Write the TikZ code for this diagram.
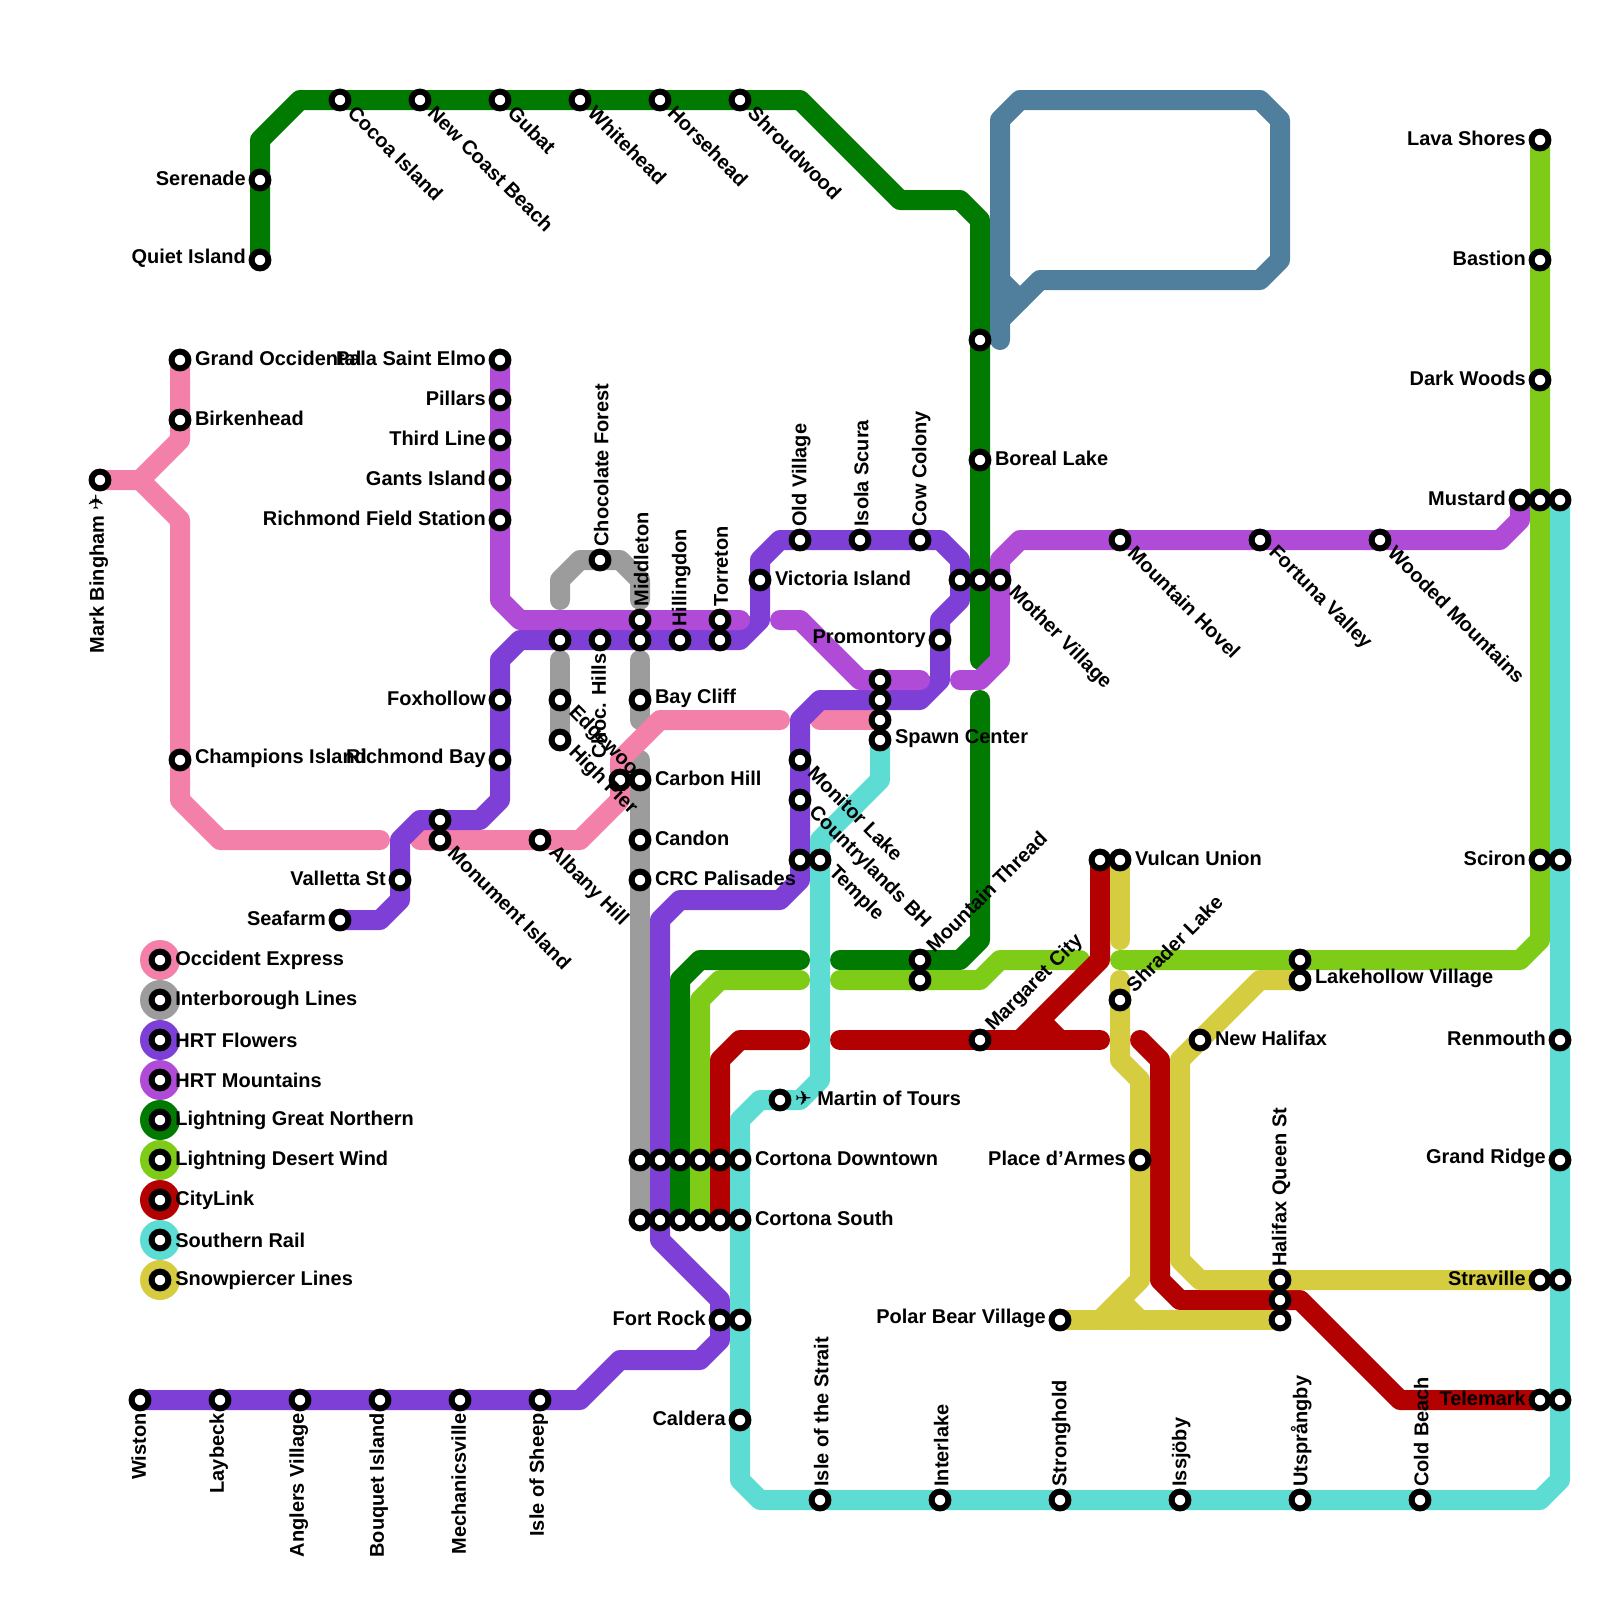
\documentclass[tikz,border=0pt]{standalone}
\usepackage{fontspec}
\setmainfont{Liberation Sans}[BoldFont=Liberation Sans Bold]
\newfontfamily\planefont{DejaVu Sans}
\usetikzlibrary{backgrounds}

\definecolor{occident}{HTML}{F380A8}
\definecolor{interboro}{HTML}{9C9C9C}
\definecolor{flowers}{HTML}{7E3FD7}
\definecolor{mountains}{HTML}{B04BD8}
\definecolor{northern}{HTML}{007A00}
\definecolor{desert}{HTML}{7FCC18}
\definecolor{citylink}{HTML}{B30000}
\definecolor{southern}{HTML}{5DDCD3}
\definecolor{snowpiercer}{HTML}{D6CC40}
\definecolor{sealine}{HTML}{4F7F9C}

\begin{document}
\begin{tikzpicture}[
      x=0.5cm, y=-0.5cm,
      stn/.style={circle, draw=black, fill=white, line width=0.15cm, inner sep=0pt, minimum size=0.42cm},
      label distance=0.07cm,
      every label/.style={font=\fontsize{14.2}{16}\selectfont\bfseries, inner sep=0pt, outer sep=0pt, text=black},
      rlab/.style={anchor=west, xshift=0.02cm, yshift=0.045cm},
      llab/.style={anchor=east, yshift=0.045cm},
      lglab/.style={anchor=west, xshift=0.03cm, yshift=-0.005cm},
      uplab/.style={xshift=0.1cm, yshift=0.05cm, rotate=90, anchor=west},
      dnlab/.style={xshift=-0.1cm, yshift=-0.05cm, rotate=90, anchor=east},
      ne/.style={xshift=0.04cm, yshift=0.02cm, rotate=45, anchor=west},
      se/.style={xshift=0.09cm, yshift=0.03cm, rotate=-45, anchor=west},
      route/.style={line width=0.5cm, line cap=round, line join=round},
      dot/.style={circle, inner sep=0pt, minimum size=1cm}
    ]
    \useasboundingbox (0,0) rectangle (80,80);

    % Lightning Great Northern
    \node[stn, label={[llab]180:Serenade}] (serenade) at (13,9) {};
    \node[stn, label={[llab]180:Quiet Island}] (quiet) at (13,13) {};
    \node[stn, label={[se]-45:Cocoa Island}] (cocoa) at (17,5) {};
    \node[stn, label={[se]-45:New Coast Beach}] (newcoast) at (21,5) {};
    \node[stn, label={[se]-45:Gubat}] (gubat) at (25,5) {};
    \node[stn, label={[se]-45:Whitehead}] (whitehead) at (29,5) {};
    \node[stn, label={[se]-45:Horsehead}] (horsehead) at (33,5) {};
    \node[stn, label={[se]-45:Shroudwood}] (shroudwood) at (37,5) {};
    \node[stn] (gnmid) at (49,17) {};
    \node[stn, label={[rlab]0:Boreal Lake}] (boreal) at (49,23) {};
    \node[stn, label={[ne]45:Mountain Thread}] (mthread) at (46,48) {};
    % Lightning Desert Wind
    \node[stn] (mthreadb) at (46,49) {};
    \node[stn, label={[llab]180:Lava Shores}] (lava) at (77,7) {};
    \node[stn, label={[llab]180:Bastion}] (bastion) at (77,13) {};
    \node[stn, label={[llab]180:Dark Woods}] (darkwoods) at (77,19) {};
    \node[stn] (mustardb) at (77,25) {};
    \node[stn, label={[llab]180:Sciron}] (sciron) at (77,43) {};
    \node[stn] (lakeholb) at (65,48) {};
    % Occident Express
    \node[stn, label={[dnlab]-90:Mark Bingham {\planefont ✈}}] (mark) at (5,24) {};
    \node[stn, label={[rlab]0:Grand Occidental}] (grandocc) at (9,18) {};
    \node[stn, label={[rlab]0:Birkenhead}] (birken) at (9,21) {};
    \node[stn, label={[rlab]0:Champions Island}] (champions) at (9,38) {};
    \node[stn, label={[se]-45:Monument Island}] (monument) at (22,42) {};
    \node[stn, label={[se]-45:Albany Hill}] (albany) at (27,42) {};
    \node[stn] (carbonb) at (31,39) {};
    % Interborough Lines
    \node[stn, label={[uplab]90:Chocolate Forest}] (chocolate) at (30,28) {};
    \node[stn, label={[se]-45:Edgewood}] (edgewood) at (28,35) {};
    \node[stn, label={[se]-45:High Pier}] (highpier) at (28,37) {};
    \node[stn, label={[rlab]0:Bay Cliff}] (baycliff) at (32,35) {};
    \node[stn, label={[rlab]0:Carbon Hill}] (carbon) at (32,39) {};
    \node[stn, label={[rlab]0:Candon}] (candon) at (32,42) {};
    \node[stn, label={[rlab]0:CRC Palisades}] (crc) at (32,44) {};
    % HRT Flowers
    \node[stn, label={[dnlab]-90:Wiston}] (wiston) at (7,70) {};
    \node[stn, label={[dnlab]-90:Laybeck}] (laybeck) at (11,70) {};
    \node[stn, label={[dnlab]-90:Anglers Village}] (anglers) at (15,70) {};
    \node[stn, label={[dnlab]-90:Bouquet Island}] (bouquet) at (19,70) {};
    \node[stn, label={[dnlab]-90:Mechanicsville}] (mechanics) at (23,70) {};
    \node[stn, label={[dnlab]-90:Isle of Sheep}] (sheep) at (27,70) {};
    \node[stn, label={[llab]180:Fort Rock}] (fortrock) at (36,66) {};
    \node[stn, label={[llab]180:Seafarm}] (seafarm) at (17,46) {};
    \node[stn, label={[llab]180:Valletta St}] (valletta) at (20,44) {};
    \node[stn] (monumentb) at (22,41) {};
    \node[stn, label={[llab]180:Richmond Bay}] (richbay) at (25,38) {};
    \node[stn, label={[llab]180:Foxhollow}] (foxhollow) at (25,35) {};
    \node[stn] (edgeb) at (28,32) {};
    \node[stn, label={[dnlab]-90:Choc. Hills}] (chochills) at (30,32) {};
    \node[stn] (middleb) at (32,32) {};
    \node[stn, label={[uplab]90:Hillingdon}] (hillingdon) at (34,32) {};
    \node[stn] (torretonb) at (36,32) {};
    \node[stn, label={[rlab]0:Victoria Island}] (victoria) at (38,29) {};
    \node[stn, label={[uplab]90:Old Village}] (oldvillage) at (40,27) {};
    \node[stn, label={[uplab]90:Isola Scura}] (isola) at (43,27) {};
    \node[stn, label={[uplab]90:Cow Colony}] (cowcolony) at (46,27) {};
    \node[stn] (motherb) at (48,29) {};
    \node[stn, label={[llab]180:Promontory}] (promontory) at (47,32) {};
    \node[stn] (spawnc) at (44,35) {};
    \node[stn, label={[se]-45:Monitor Lake}] (monitor) at (40,38) {};
    \node[stn, label={[se]-45:Countrylands BH}] (country) at (40,40) {};
    \node[stn] (templeb) at (40,43) {};
    % HRT Mountains
    \node[stn, label={[llab]180:Pala Saint Elmo}] (elmo) at (25,18) {};
    \node[stn, label={[llab]180:Pillars}] (pillars) at (25,20) {};
    \node[stn, label={[llab]180:Third Line}] (thirdline) at (25,22) {};
    \node[stn, label={[llab]180:Gants Island}] (gants) at (25,24) {};
    \node[stn, label={[llab]180:Richmond Field Station}] (richfield) at (25,26) {};
    \node[stn, label={[uplab]90:Middleton}] (middleton) at (32,31) {};
    \node[stn, label={[uplab]90:Torreton}] (torreton) at (36,31) {};
    \node[stn] (spawnb) at (44,34) {};
    \node[stn] (motherc) at (49,29) {};
    \node[stn, label={[se]-45:Mother Village}] (mother) at (50,29) {};
    \node[stn, label={[se]-45:Mountain Hovel}] (hovel) at (56,27) {};
    \node[stn, label={[se]-45:Fortuna Valley}] (fortuna) at (63,27) {};
    \node[stn, label={[se]-45:Wooded Mountains}] (wooded) at (69,27) {};
    \node[stn, label={[llab]180:Mustard}] (mustard) at (76,25) {};
    % CityLink
    \node[stn, label={[ne]45:Margaret City}] (margaret) at (49,52) {};
    \node[stn] (vulcanb) at (55,43) {};
    \node[stn] (halifaxb) at (64,65) {};
    \node[stn, label={[llab]180:Telemark}] (telemark) at (77,70) {};
    \node[stn] (cortdnb) at (36,58) {};
    \node[stn] (cortsb) at (36,61) {};
    % Southern Rail
    \node[stn, label={[rlab]0:Spawn Center}] (spawn) at (44,37) {};
    \node[stn, label={[se]-45:Temple}] (temple) at (41,43) {};
    \node[stn, label={[rlab]0:{\planefont ✈} Martin of Tours}] (martin) at (39,55) {};
    \node[stn, label={[rlab]0:Cortona Downtown}] (cortdn) at (37,58) {};
    \node[stn, label={[rlab]0:Cortona South}] (corts) at (37,61) {};
    \node[stn] (fortrockb) at (37,66) {};
    \node[stn, label={[llab]180:Caldera}] (caldera) at (37,71) {};
    \node[stn, label={[uplab]90:Isle of the Strait}] (strait) at (41,75) {};
    \node[stn, label={[uplab]90:Interlake}] (interlake) at (47,75) {};
    \node[stn, label={[uplab]90:Stronghold}] (stronghold) at (53,75) {};
    \node[stn, label={[uplab]90:Issjöby}] (issjoby) at (59,75) {};
    \node[stn, label={[uplab]90:Utsprångby}] (utsprang) at (65,75) {};
    \node[stn, label={[uplab]90:Cold Beach}] (coldbeach) at (71,75) {};
    \node[stn] (mustardc) at (78,25) {};
    \node[stn] (scironb) at (78,43) {};
    \node[stn, label={[llab]180:Renmouth}] (renmouth) at (78,52) {};
    \node[stn, label={[llab]180:Grand Ridge}] (grandridge) at (78,58) {};
    \node[stn] (stravilleb) at (78,64) {};
    \node[stn] (telemarkb) at (78,70) {};
    % Snowpiercer Lines
    \node[stn, label={[rlab]0:Vulcan Union}] (vulcan) at (56,43) {};
    \node[stn, label={[ne]45:Shrader Lake}] (shrader) at (56,50) {};
    \node[stn, label={[rlab]0:Lakehollow Village}] (lakehol) at (65,49) {};
    \node[stn, label={[rlab]0:New Halifax}] (newhalifax) at (60,52) {};
    \node[stn, label={[llab]180:Place d’Armes}] (armes) at (57,58) {};
    \node[stn, label={[llab]180:Polar Bear Village}] (polar) at (53,66) {};
    \node[stn, label={[uplab]90:Halifax Queen St}] (halifax) at (64,64) {};
    \node[stn] (halifaxc) at (64,66) {};
    \node[stn, label={[llab]180:Straville}] (straville) at (77,64) {};
    % Cortona rows
    \node[stn] (cortdnc) at (32,58) {};
    \node[stn] (cortdnd) at (33,58) {};
    \node[stn] (cortdne) at (34,58) {};
    \node[stn] (cortdnf) at (35,58) {};
    \node[stn] (cortsc) at (32,61) {};
    \node[stn] (cortsd) at (33,61) {};
    \node[stn] (cortse) at (34,61) {};
    \node[stn] (cortsf) at (35,61) {};
    \node[stn] (spawnd) at (44,36) {};

    % free line ends
    \coordinate (gnstop) at (49,33);
    \coordinate (gnrestart) at (49,35);
    \coordinate (gnwest) at (40,48);
    \coordinate (gneast) at (42,48);
    \coordinate (dwwest) at (40,49);
    \coordinate (dweast) at (42,49);
    \coordinate (dwcross) at (54,48);
    \coordinate (dwrestart) at (56,48);
    \coordinate (oeleft) at (19,42);
    \coordinate (oeright) at (21,42);
    \coordinate (oetop) at (39,36);
    \coordinate (oespawn) at (41,36);
    \coordinate (oefork) at (7,24);
    \coordinate (ibtop) at (28,30);
    \coordinate (ibmid) at (32,30);
    \coordinate (ibedge) at (28,33);
    \coordinate (ibbay) at (32,33);
    \coordinate (ibbayend) at (32,36);
    \coordinate (ibcarbon) at (32,38);
    \coordinate (mtwest) at (37,31);
    \coordinate (mtmid) at (39,31);
    \coordinate (mtmidend) at (46,34);
    \coordinate (mteast) at (48,34);
    \coordinate (clwest) at (40,52);
    \coordinate (cleast) at (42,52);
    \coordinate (clcross) at (55,52);
    \coordinate (cljoin) at (51,52);
    \coordinate (clfork) at (52,51);
    \coordinate (clforkend) at (53,52);
    \coordinate (clsouth) at (57,52);
    \coordinate (spwest) at (56,47);
    \coordinate (spstart) at (56,49);
    \coordinate (spjoin) at (55,66);
    \coordinate (spfork) at (56,65);
    \coordinate (spforkend) at (57,66);
    \coordinate (slstart) at (50,17);
    \coordinate (sljoin) at (50,16);
    \coordinate (slfork) at (50,14);
    \coordinate (slforkend) at (51,15);

    \begin{scope}[on background layer]
    % legend discs
    \node[dot, fill=occident] (lgoe) at (8,48) {};
    \node[dot, fill=interboro] (lgib) at (8,50) {};
    \node[dot, fill=flowers] (lgfl) at (8,52) {};
    \node[dot, fill=mountains] (lgmt) at (8,54) {};
    \node[dot, fill=northern] (lggn) at (8,56) {};
    \node[dot, fill=desert] (lgdw) at (8,58) {};
    \node[dot, fill=citylink] (lgcl) at (8,60) {};
    \node[dot, fill=southern] (lgsr) at (8,62) {};
    \node[dot, fill=snowpiercer] (lgsp) at (8,64) {};

    \draw[route, interboro] (ibtop) -- (28,29) -- (29,28) -- (31,28) -- (32,29) -- (ibmid);
    \draw[route, interboro] (ibedge) -- (highpier.center);
    \draw[route, interboro] (ibbay) -- (ibbayend);
    \draw[route, interboro] (ibcarbon) -- (cortsc.center);

    \draw[route, occident] (mark.center) -- (oefork) -- (9,22) -- (grandocc.center);
    \draw[route, occident] (oefork) -- (9,26) -- (9,40) -- (11,42) -- (oeleft);
    \draw[route, occident] (oeright) -- (29,42) -- (31,40) -- (31,38) -- (33,36) -- (oetop);
    \draw[route, occident] (oespawn) -- (spawnd.center);

    \draw[route, flowers] (wiston.center) -- (29,70) -- (31,68) -- (35,68) -- (36,67) -- (36,65) -- (33,62) -- (33,46) -- (34,45) -- (39,45) -- (40,44) -- (40,36) -- (41,35) -- (46,35) -- (47,34) -- (47,31) -- (48,30) -- (48,28) -- (47,27) -- (39,27) -- (38,28) -- (38,31) -- (37,32) -- (26,32) -- (25,33) -- (25,40) -- (24,41) -- (21,41) -- (20,42) -- (20,45) -- (19,46) -- (seafarm.center);

    \draw[route, northern] (quiet.center) -- (13,7) -- (15,5) -- (40,5) -- (45,10) -- (48,10) -- (49,11) -- (gnstop);
    \draw[route, northern] (gnrestart) -- (49,47) -- (48,48) -- (gneast);
    \draw[route, northern] (gnwest) -- (35,48) -- (34,49) -- (cortse.center);

    \draw[route, mountains] (elmo.center) -- (25,30) -- (26,31) -- (mtwest);
    \draw[route, mountains] (mtmid) -- (40,31) -- (43,34) -- (mtmidend);
    \draw[route, mountains] (mteast) -- (49,34) -- (50,33) -- (50,28) -- (51,27) -- (75,27) -- (76,26) -- (mustard.center);

    \draw[route, desert] (dwwest) -- (36,49) -- (35,50) -- (cortsf.center);
    \draw[route, desert] (dweast) -- (49,49) -- (50,48) -- (dwcross);
    \draw[route, desert] (dwrestart) -- (76,48) -- (77,47) -- (lava.center);

    \draw[route, citylink] (cortsb.center) -- (36,53) -- (37,52) -- (clwest);
    \draw[route, citylink] (cleast) -- (clcross);
    \draw[route, citylink] (vulcanb.center) -- (55,48) -- (cljoin);
    \draw[route, citylink] (clfork) -- (clforkend);
    \draw[route, citylink] (clsouth) -- (58,53) -- (58,64) -- (59,65) -- (65,65) -- (70,70) -- (telemark.center);

    \draw[route, southern] (spawn.center) -- (44,39) -- (41,42) -- (41,54) -- (40,55) -- (38,55) -- (37,56) -- (37,74) -- (38,75) -- (77,75) -- (78,74) -- (mustardc.center);

    \draw[route, snowpiercer] (vulcan.center) -- (spwest);
    \draw[route, snowpiercer] (spstart) -- (56,53) -- (57,54) -- (57,64) -- (spjoin);
    \draw[route, snowpiercer] (polar.center) -- (halifaxc.center);
    \draw[route, snowpiercer] (spfork) -- (spforkend);
    \draw[route, snowpiercer] (lakehol.center) -- (63,49) -- (59,53) -- (59,63) -- (60,64) -- (straville.center);

    \draw[route, sealine] (slstart) -- (50,6) -- (51,5) -- (63,5) -- (64,6) -- (64,13) -- (63,14) -- (52,14) -- (sljoin);
    \draw[route, sealine] (slfork) -- (slforkend);
    \end{scope}

    % legend
    \node[stn, label={[lglab]0:Occident Express}] (lgoestn) at (lgoe) {};
    \node[stn, label={[lglab]0:Interborough Lines}] (lgibstn) at (lgib) {};
    \node[stn, label={[lglab]0:HRT Flowers}] (lgflstn) at (lgfl) {};
    \node[stn, label={[lglab]0:HRT Mountains}] (lgmtstn) at (lgmt) {};
    \node[stn, label={[lglab]0:Lightning Great Northern}] (lggnstn) at (lggn) {};
    \node[stn, label={[lglab]0:Lightning Desert Wind}] (lgdwstn) at (lgdw) {};
    \node[stn, label={[lglab]0:CityLink}] (lgclstn) at (lgcl) {};
    \node[stn, label={[lglab]0:Southern Rail}] (lgsrstn) at (lgsr) {};
    \node[stn, label={[lglab]0:Snowpiercer Lines}] (lgspstn) at (lgsp) {};
  \end{tikzpicture}
\end{document}
